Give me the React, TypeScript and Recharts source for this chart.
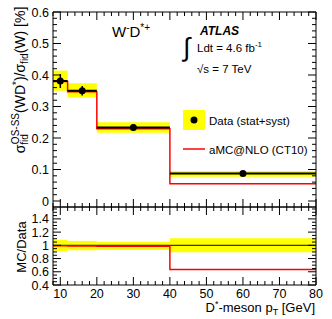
import React from "react";
import {
  ComposedChart,
  XAxis,
  YAxis,
  Line,
  Scatter,
  ErrorBar,
  ReferenceArea,
  ReferenceLine,
} from "recharts";

// bins in D*-meson pT [GeV]
const binEdges = [8, 12, 20, 40, 80];
const dataX = [10, 16, 30, 60];
const dataY = [0.381, 0.35, 0.233, 0.087];
const dataErr = [0.022, 0.015, 0.01, 0.004];
const bandLow = [0.35, 0.329, 0.217, 0.077];
const bandHigh = [0.414, 0.374, 0.25, 0.095];
const mcY = [0.379, 0.347, 0.229, 0.055];

// ratio panel
const ratioBandLow = [0.915, 0.925, 0.93, 0.895];
const ratioBandHigh = [1.08, 1.067, 1.056, 1.107];
const ratioMc = [0.995, 0.99, 0.985, 0.635];

const xTickLabels = [10, 20, 30, 40, 50, 60, 70, 80];
const yTickLabels = [0, 0.1, 0.2, 0.3, 0.4, 0.5, 0.6];
const ratioTickLabels = [0.4, 0.6, 0.8, 1, 1.2, 1.4];

const xMinor = Array.from({ length: 37 }, (_, i) => 8 + 2 * i);
const yMinor = Array.from({ length: 31 }, (_, i) => Math.round(i * 2) / 100);
const ratioMinor = Array.from({ length: 24 }, (_, i) => Math.round(40 + i * 5) / 100);

const FONT = "'Liberation Sans', Arial, Helvetica, sans-serif";
const YELLOW = "#ffff00";
const RED = "#ff0000";

const mcSteps = binEdges.map((x, i) => ({ x, mc: mcY[Math.min(i, mcY.length - 1)] }));
const ratioSteps = binEdges.map((x, i) => ({ x, r: ratioMc[Math.min(i, ratioMc.length - 1)] }));
const points = dataX.map((x, i) => ({ x, y: dataY[i], err: dataErr[i] }));

type Side = "left" | "right" | "top" | "bottom";

// ROOT style ticks: pointing into the frame, minor + major
const axisTick =
  (side: Side, majors: number[], withLabel: boolean, majorLen: number, minorLen: number) =>
  (props: any) => {
    const { x, y, payload } = props;
    const v = payload.value as number;
    const major = majors.find((m) => Math.abs(m - v) < 1e-6);
    const len = major !== undefined ? majorLen : minorLen;
    let x2 = x;
    let y2 = y;
    if (side === "left") x2 = x + len;
    if (side === "right") x2 = x - len;
    if (side === "top") y2 = y + len;
    if (side === "bottom") y2 = y - len;
    return (
      <g>
        <line x1={x} y1={y} x2={x2} y2={y2} stroke="#000" strokeWidth={1} />
        {withLabel && major !== undefined && side === "left" && (
          <text x={x - 4} y={y + 4.5} textAnchor="end" fontSize={12.5} fontFamily={FONT} fill="#000">
            {String(major)}
          </text>
        )}
        {withLabel && major !== undefined && side === "bottom" && (
          <text x={x} y={y + 13} textAnchor="middle" fontSize={12.5} fontFamily={FONT} fill="#000">
            {String(major)}
          </text>
        )}
      </g>
    );
  };

const Dot = (p: any) => <circle cx={p.cx} cy={p.cy} r={3.5} fill="#000" />;

const axisLine = { stroke: "#000", strokeWidth: 1 };

const App: React.FC = () => {
  return (
    <div style={{ position: "absolute", left: 0, top: 0, width: 332, height: 319, background: "#fff" }}>
      {/* main panel */}
      <div style={{ position: "absolute", left: 0, top: 0 }}>
        <ComposedChart width={332} height={208} data={mcSteps} margin={{ top: 11, right: 15, bottom: 0, left: 0 }}>
          <XAxis
            dataKey="x"
            type="number"
            domain={[8, 80]}
            allowDataOverflow
            ticks={xMinor}
            interval={0}
            height={1}
            tickSize={0}
            tickMargin={0}
            tickLine={false}
            axisLine={axisLine}
            tick={axisTick("bottom", xTickLabels, false, 8, 4)}
          />
          <XAxis
            xAxisId="top"
            orientation="top"
            dataKey="x"
            type="number"
            domain={[8, 80]}
            allowDataOverflow
            ticks={xMinor}
            interval={0}
            height={1}
            tickSize={0}
            tickMargin={0}
            tickLine={false}
            axisLine={axisLine}
            tick={axisTick("top", xTickLabels, false, 8, 4)}
          />
          <YAxis
            type="number"
            domain={[-0.019, 0.6]}
            allowDataOverflow
            ticks={yMinor}
            interval={0}
            width={53}
            tickSize={0}
            tickMargin={0}
            tickLine={false}
            axisLine={axisLine}
            tick={axisTick("left", yTickLabels, true, 8, 4)}
          />
          <YAxis
            yAxisId="r"
            orientation="right"
            type="number"
            domain={[-0.019, 0.6]}
            allowDataOverflow
            ticks={yMinor}
            interval={0}
            width={1}
            tickSize={0}
            tickMargin={0}
            tickLine={false}
            axisLine={axisLine}
            tick={axisTick("right", yTickLabels, false, 8, 4)}
          />
          {bandLow.map((lo, i) => (
            <ReferenceArea
              key={`band-${i}`}
              x1={binEdges[i]}
              x2={binEdges[i + 1]}
              y1={lo}
              y2={bandHigh[i]}
              fill={YELLOW}
              fillOpacity={1}
              stroke="none"
            />
          ))}
          <Line
            dataKey="mc"
            type="stepAfter"
            stroke={RED}
            strokeWidth={1.5}
            dot={false}
            isAnimationActive={false}
          />
          {dataY.map((v, i) => (
            <ReferenceLine
              key={`dl-${i}`}
              segment={[
                { x: binEdges[i], y: v },
                { x: binEdges[i + 1], y: v },
              ]}
              stroke="#000"
              strokeWidth={2}
            />
          ))}
          <Scatter data={points} dataKey="y" shape={Dot} isAnimationActive={false}>
            <ErrorBar dataKey="err" direction="y" width={0} stroke="#000" strokeWidth={1.5} />
          </Scatter>
        </ComposedChart>
      </div>

      {/* ratio panel */}
      <div style={{ position: "absolute", left: 0, top: 206 }}>
        <ComposedChart width={332} height={113} data={ratioSteps} margin={{ top: 0, right: 15, bottom: 0, left: 0 }}>
          <XAxis
            dataKey="x"
            type="number"
            domain={[8, 80]}
            allowDataOverflow
            ticks={xMinor}
            interval={0}
            height={34}
            tickSize={0}
            tickMargin={0}
            tickLine={false}
            axisLine={axisLine}
            tick={axisTick("bottom", xTickLabels, true, 8, 4)}
          />
          <XAxis
            xAxisId="top"
            orientation="top"
            dataKey="x"
            type="number"
            domain={[8, 80]}
            allowDataOverflow
            ticks={xMinor}
            interval={0}
            height={1}
            tickSize={0}
            tickMargin={0}
            tickLine={false}
            axisLine={axisLine}
            tick={axisTick("top", xTickLabels, false, 8, 4)}
          />
          <YAxis
            type="number"
            domain={[0.4, 1.58]}
            allowDataOverflow
            ticks={ratioMinor}
            interval={0}
            width={53}
            tickSize={0}
            tickMargin={0}
            tickLine={false}
            axisLine={axisLine}
            tick={axisTick("left", ratioTickLabels, true, 8, 4)}
          />
          <YAxis
            yAxisId="r"
            orientation="right"
            type="number"
            domain={[0.4, 1.58]}
            allowDataOverflow
            ticks={ratioMinor}
            interval={0}
            width={1}
            tickSize={0}
            tickMargin={0}
            tickLine={false}
            axisLine={axisLine}
            tick={axisTick("right", ratioTickLabels, false, 8, 4)}
          />
          {ratioBandLow.map((lo, i) => (
            <ReferenceArea
              key={`rband-${i}`}
              x1={binEdges[i]}
              x2={binEdges[i + 1]}
              y1={lo}
              y2={ratioBandHigh[i]}
              fill={YELLOW}
              fillOpacity={1}
              stroke="none"
            />
          ))}
          <ReferenceLine y={1} stroke="#333" strokeWidth={1.2} />
          <Line
            dataKey="r"
            type="stepAfter"
            stroke={RED}
            strokeWidth={1.5}
            dot={false}
            isAnimationActive={false}
          />
        </ComposedChart>
      </div>

      {/* titles, labels and legend */}
      <svg
        width={332}
        height={319}
        style={{ position: "absolute", left: 0, top: 0, pointerEvents: "none" }}
        fontFamily={FONT}
      >
        <text transform="translate(25,80) rotate(-90)" textAnchor="middle" fontSize={14} fill="#000">
          σ
          <tspan fontSize={10} dy={3}>fid</tspan>
          <tspan fontSize={10} dx={-10} dy={-9}>OS-SS</tspan>
          <tspan dy={6}>(WD</tspan>
          <tspan fontSize={10} dy={-5}>*</tspan>
          <tspan dy={5}>)/σ</tspan>
          <tspan fontSize={10} dy={3}>fid</tspan>
          <tspan dy={-3}>(W) [%]</tspan>
        </text>
        <text transform="translate(26,247) rotate(-90)" textAnchor="middle" fontSize={13} fill="#000">
          MC/Data
        </text>
        <text x={315} y={312} textAnchor="end" fontSize={13} fill="#000">
          D<tspan fontSize={9} dy={-5}>*</tspan>
          <tspan dy={5}>-meson p</tspan>
          <tspan fontSize={9} dy={3}>T</tspan>
          <tspan dy={-3}> [GeV]</tspan>
        </text>

        <text x={112} y={37} fontSize={15} fill="#000">
          W<tspan fontSize={10} dy={-6}>-</tspan>
          <tspan dy={6}>D</tspan>
          <tspan fontSize={10} dy={-6}>*+</tspan>
        </text>

        <text x={200} y={35} fontSize={12} fontWeight="bold" fontStyle="italic" fill="#000">
          ATLAS
        </text>
        <text x={183} y={56} fontSize={26} fill="#000">
          ∫
        </text>
        <text x={197} y={52} fontSize={11.5} fill="#000">
          Ldt = 4.6 fb<tspan fontSize={8} dy={-5}>-1</tspan>
        </text>
        <text x={197} y={73} fontSize={11.5} fill="#000">
          √s = 7 TeV
        </text>

        <rect x={183} y={110} width={22} height={20} fill={YELLOW} />
        <circle cx={194} cy={120} r={3.5} fill="#000" />
        <text x={209} y={125} fontSize={11.5} fill="#000">
          Data (stat+syst)
        </text>
        <line x1={183} y1={149} x2={205} y2={149} stroke={RED} strokeWidth={1.5} />
        <text x={209} y={154} fontSize={11.5} fill="#000">
          aMC@NLO (CT10)
        </text>
      </svg>
    </div>
  );
};

export default App;
